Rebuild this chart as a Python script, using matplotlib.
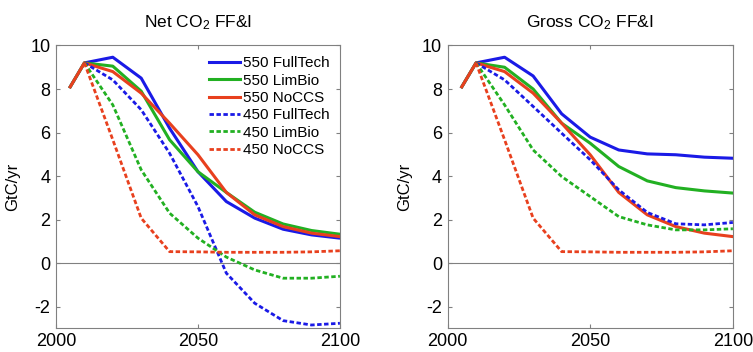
import numpy as np
import matplotlib
matplotlib.use("Agg")
import matplotlib.pyplot as plt

plt.rcParams['font.family'] = ['Liberation Sans', 'DejaVu Sans']
plt.rcParams['mathtext.fontset'] = 'custom'
plt.rcParams['mathtext.rm'] = 'Liberation Sans'
plt.rcParams['mathtext.default'] = 'regular'
plt.rcParams['axes.unicode_minus'] = False

nan = np.nan
years = [2005, 2010, 2020, 2030, 2040, 2050, 2060, 2070, 2080, 2090, 2100]

labels = ['550 FullTech', '550 LimBio', '550 NoCCS',
          '450 FullTech', '450 LimBio', '450 NoCCS']

# net CO2 from fossil fuel & industry (GtC/yr)
net_550_fulltech = [8.1, 9.2, 9.46, 8.5, 6.2, 4.2, 2.83, 2.07, 1.56, 1.3, 1.15]
net_550_limbio = [8.1, 9.2, 9.05, 7.9, 5.67, 4.2, 3.25, 2.34, 1.8, 1.5, 1.33]
net_550_noccs = [8.1, 9.2, 8.8, 7.81, 6.43, 4.98, 3.25, 2.22, 1.68, 1.38, 1.22]
net_450_fulltech = [nan, 9.2, 8.42, 7.05, 5.05, 2.6, -0.46, -1.84, -2.64, -2.84, -2.76]
net_450_limbio = [nan, 9.2, 7.27, 4.29, 2.3, 1.15, 0.28, -0.31, -0.69, -0.69, -0.6]
net_450_noccs = [nan, 9.2, 5.67, 2.07, 0.53, 0.52, 0.5, 0.5, 0.5, 0.52, 0.57]

# gross CO2 from fossil fuel & industry (GtC/yr)
gross_550_fulltech = [8.1, 9.2, 9.46, 8.6, 6.86, 5.79, 5.2, 5.02, 4.98, 4.87, 4.82]
gross_550_limbio = [8.1, 9.2, 9.0, 8.0, 6.43, 5.51, 4.44, 3.78, 3.47, 3.32, 3.22]
gross_550_noccs = [8.1, 9.2, 8.8, 7.81, 6.43, 4.98, 3.25, 2.22, 1.68, 1.38, 1.22]
gross_450_fulltech = [nan, 9.2, 8.42, 7.2, 5.97, 4.75, 3.37, 2.33, 1.81, 1.76, 1.87]
gross_450_limbio = [nan, 9.2, 7.27, 5.2, 3.98, 3.06, 2.14, 1.76, 1.53, 1.53, 1.58]
gross_450_noccs = [nan, 9.2, 5.67, 2.07, 0.53, 0.52, 0.5, 0.5, 0.5, 0.52, 0.57]

net = [net_550_fulltech, net_550_limbio, net_550_noccs,
       net_450_fulltech, net_450_limbio, net_450_noccs]
gross = [gross_550_fulltech, gross_550_limbio, gross_550_noccs,
         gross_450_fulltech, gross_450_limbio, gross_450_noccs]

colors = ['#1a1ae6', '#22b022', '#e8401e'] * 2
dashed = [False, False, False, True, True, True]

fig = plt.figure(figsize=(7.53, 3.52), dpi=100)
ax1 = fig.add_axes([0.0744, 0.0668, 0.377, 0.804])
ax2 = fig.add_axes([0.5943, 0.0668, 0.379, 0.804])

grey = '#808080'
for ax, data, title in [(ax1, net, 'Net CO$_2$ FF&I'), (ax2, gross, 'Gross CO$_2$ FF&I')]:
    ax.axhline(0, color=grey, lw=0.8, zorder=1)
    for vals, c, d, lab in zip(data, colors, dashed, labels):
        if d:
            ax.plot(years, vals, color=c, lw=2.0, dashes=(1.6, 0.9), label=lab)
        else:
            ax.plot(years, vals, color=c, lw=2.2, label=lab)
    ax.set_xlim(2000, 2100)
    ax.set_ylim(-3, 10)
    ax.set_xticks([2000, 2050, 2100])
    ax.set_yticks([-2, 0, 2, 4, 6, 8, 10])
    ax.tick_params(direction='in', length=3, width=0.8, color=grey,
                   labelsize=13, top=True, right=True, pad=4)
    ax.tick_params(axis='x', pad=3)
    for s in ax.spines.values():
        s.set_color(grey)
        s.set_linewidth(0.8)
    ax.set_ylabel('GtC/yr', fontsize=12, labelpad=7)
    ax.set_title(title, fontsize=12.5, pad=13)

ax1.legend(loc='upper right', frameon=False, fontsize=11, handlelength=2.0,
           handletextpad=0.2, labelspacing=0.22, borderaxespad=0.4, borderpad=0.3)

fig.savefig('out.png', dpi=100)
